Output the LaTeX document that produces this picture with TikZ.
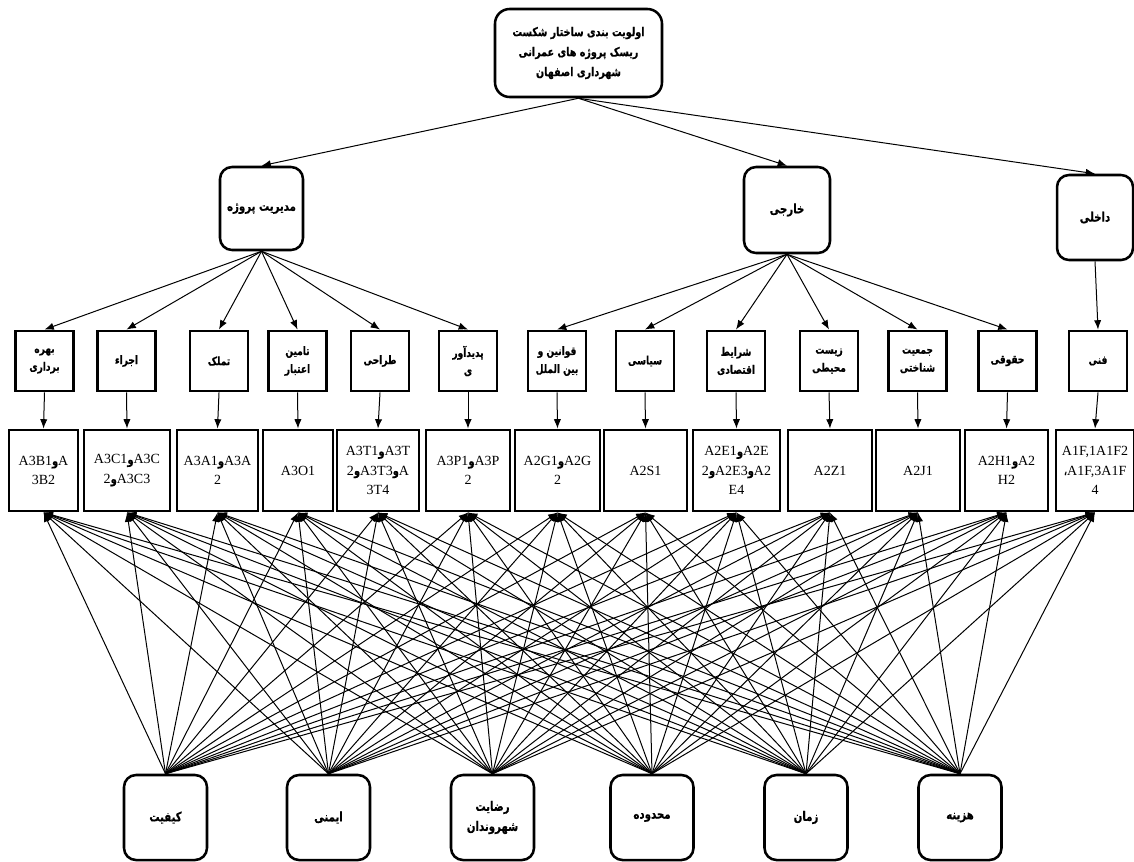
\documentclass[tikz,border=0pt]{standalone}
\usepackage{fontspec}
\usetikzlibrary{arrows.meta}
\TeXXeTstate=1
\newfontfamily\fa[Script=Arabic, FakeStretch=0.78, FakeBold=0.6]{DejaVu Sans}
\newfontfamily\lat{Liberation Serif}
\newcommand{\prs}[1]{\beginR#1\endR}
\newcommand{\vav}{{\fa\bfseries\fontsize{9.5}{10}\selectfont و}}
\begin{document}
\begin{tikzpicture}[x=0.75pt,y=-0.75pt,
 rbox/.style={draw, line width=1.9pt, rounded corners=9pt, align=center, inner sep=0pt, font=\fa\bfseries\fontsize{9.8}{15}\selectfont},
 sbox/.style={draw, line width=2.2pt, align=center, inner sep=0pt, minimum width=43.5pt, minimum height=45pt, font=\fa\bfseries\fontsize{8.7}{13.5}\selectfont},
 cbox/.style={draw, line width=2.2pt, align=center, inner sep=0pt, minimum height=60.75pt, font=\lat\fontsize{10.5}{14.5}\selectfont},
 bbox/.style={rbox, minimum width=62.25pt, minimum height=63.75pt},
 arr/.style={-{Latex[length=7pt,width=5.5pt]}, line width=0.75pt},
]
\useasboundingbox (0,0) rectangle (1134,861);
% top
\node[rbox, rounded corners=11pt, minimum width=125.25pt, minimum height=66pt, font=\fa\bfseries\fontsize{9.2}{15}\selectfont] (top) at (578.5,53) {\prs{اولویت بندی ساختار شکست}\\\prs{ریسک پروژه های عمرانی}\\\prs{شهرداری اصفهان}};
% level 2
\node[rbox, minimum width=62.25pt, minimum height=62.25pt] (pm) at (261.5,208.5) {\prs{مدیریت پروژه}};
\node[rbox, minimum width=64.5pt, minimum height=64.5pt] (ext) at (787,210) {\prs{خارجی}};
\node[rbox, minimum width=57pt, minimum height=63.75pt] (int) at (1095,217.5) {\prs{داخلی}};
% level 3
\node[sbox] (s1) at (44.5,361) {\prs{بهره}\\\prs{برداری}};
\node[sbox] (s2) at (126.5,361) {\prs{اجراء}};
\node[sbox] (s3) at (219,361) {\prs{تملک}};
\node[sbox] (s4) at (297.5,361) {\prs{تامین}\\\prs{اعتبار}};
\node[sbox] (s5) at (380,361) {\prs{طراحی}};
\node[sbox] (s6) at (468,361) {\prs{پدیدآور}\\\prs{ی}};
\node[sbox] (s7) at (557,361) {\prs{قوانین و}\\\prs{بین الملل}};
\node[sbox] (s8) at (645,361) {\prs{سیاسی}};
\node[sbox] (s9) at (736,361) {\prs{شرایط}\\\prs{اقتصادی}};
\node[sbox] (s10) at (829,361) {\prs{زیست}\\\prs{محیطی}};
\node[sbox] (s11) at (917.5,361) {\prs{جمعیت}\\\prs{شناختی}};
\node[sbox] (s12) at (1007.5,361) {\prs{حقوقی}};
\node[sbox] (s13) at (1098,361) {\prs{فنی}};
% level 4
\node[cbox, minimum width=51.75pt] (c1) at (43.5,470.5) {A3B1\vav A\\3B2};
\node[cbox, minimum width=64.5pt] (c2) at (127,470.5) {A3C1\vav A3C\\2\vav A3C3};
\node[cbox, minimum width=60.75pt] (c3) at (217.5,470.5) {A3A1\vav A3A\\2};
\node[cbox, minimum width=52.5pt] (c4) at (298,470.5) {A3O1};
\node[cbox, minimum width=61.5pt] (c5) at (378,470.5) {A3T1\vav A3T\\2\vav A3T3\vav A\\3T4};
\node[cbox, minimum width=63pt] (c6) at (468,470.5) {A3P1\vav A3P\\2};
\node[cbox, minimum width=63.75pt] (c7) at (557.5,470.5) {A2G1\vav A2G\\2};
\node[cbox, minimum width=62.25pt] (c8) at (645.5,470.5) {A2S1};
\node[cbox, minimum width=65.25pt] (c9) at (736.5,470.5) {A2E1\vav A2E\\2\vav A2E3\vav A2\\E4};
\node[cbox, minimum width=63pt] (c10) at (830,470.5) {A2Z1};
\node[cbox, minimum width=63pt] (c11) at (918,470.5) {A2J1};
\node[cbox, minimum width=62.25pt] (c12) at (1006.5,470.5) {A2H1\vav A2\\H2};
\node[cbox, minimum width=58.5pt] (c13) at (1095,470.5) {A1F,1A1F2\\{\fa ،}A1F,3A1F\\4};
% bottom
\node[bbox] (b1) at (165.5,817.5) {\prs{کیفیت}};
\node[bbox] (b2) at (328.5,817.5) {\prs{ایمنی}};
\node[bbox] (b3) at (492.5,817.5) {\prs{رضایت}\\\prs{شهروندان}};
\node[bbox] (b4) at (652,817.5) {\prs{محدوده}};
\node[bbox] (b5) at (806,817.5) {\prs{زمان}};
\node[bbox] (b6) at (960,817.5) {\prs{هزینه}};
% edges
\draw[arr] (top.south) -- (pm.north);
\draw[arr] (top.south) -- (ext.north);
\draw[arr] (top.south) -- (int.north);
\foreach \i in {1,...,6} \draw[arr] (pm.south) -- (s\i.north);
\foreach \i in {7,...,12} \draw[arr] (ext.south) -- (s\i.north);
\draw[arr] (int.south) -- (s13.north);
\foreach \i in {1,...,13} \draw[arr] (s\i.south) -- (c\i.north);
\foreach \b in {1,...,6} \foreach \c in {1,...,13} \draw[arr] (b\b.north) -- (c\c.south);
\end{tikzpicture}
\end{document}
